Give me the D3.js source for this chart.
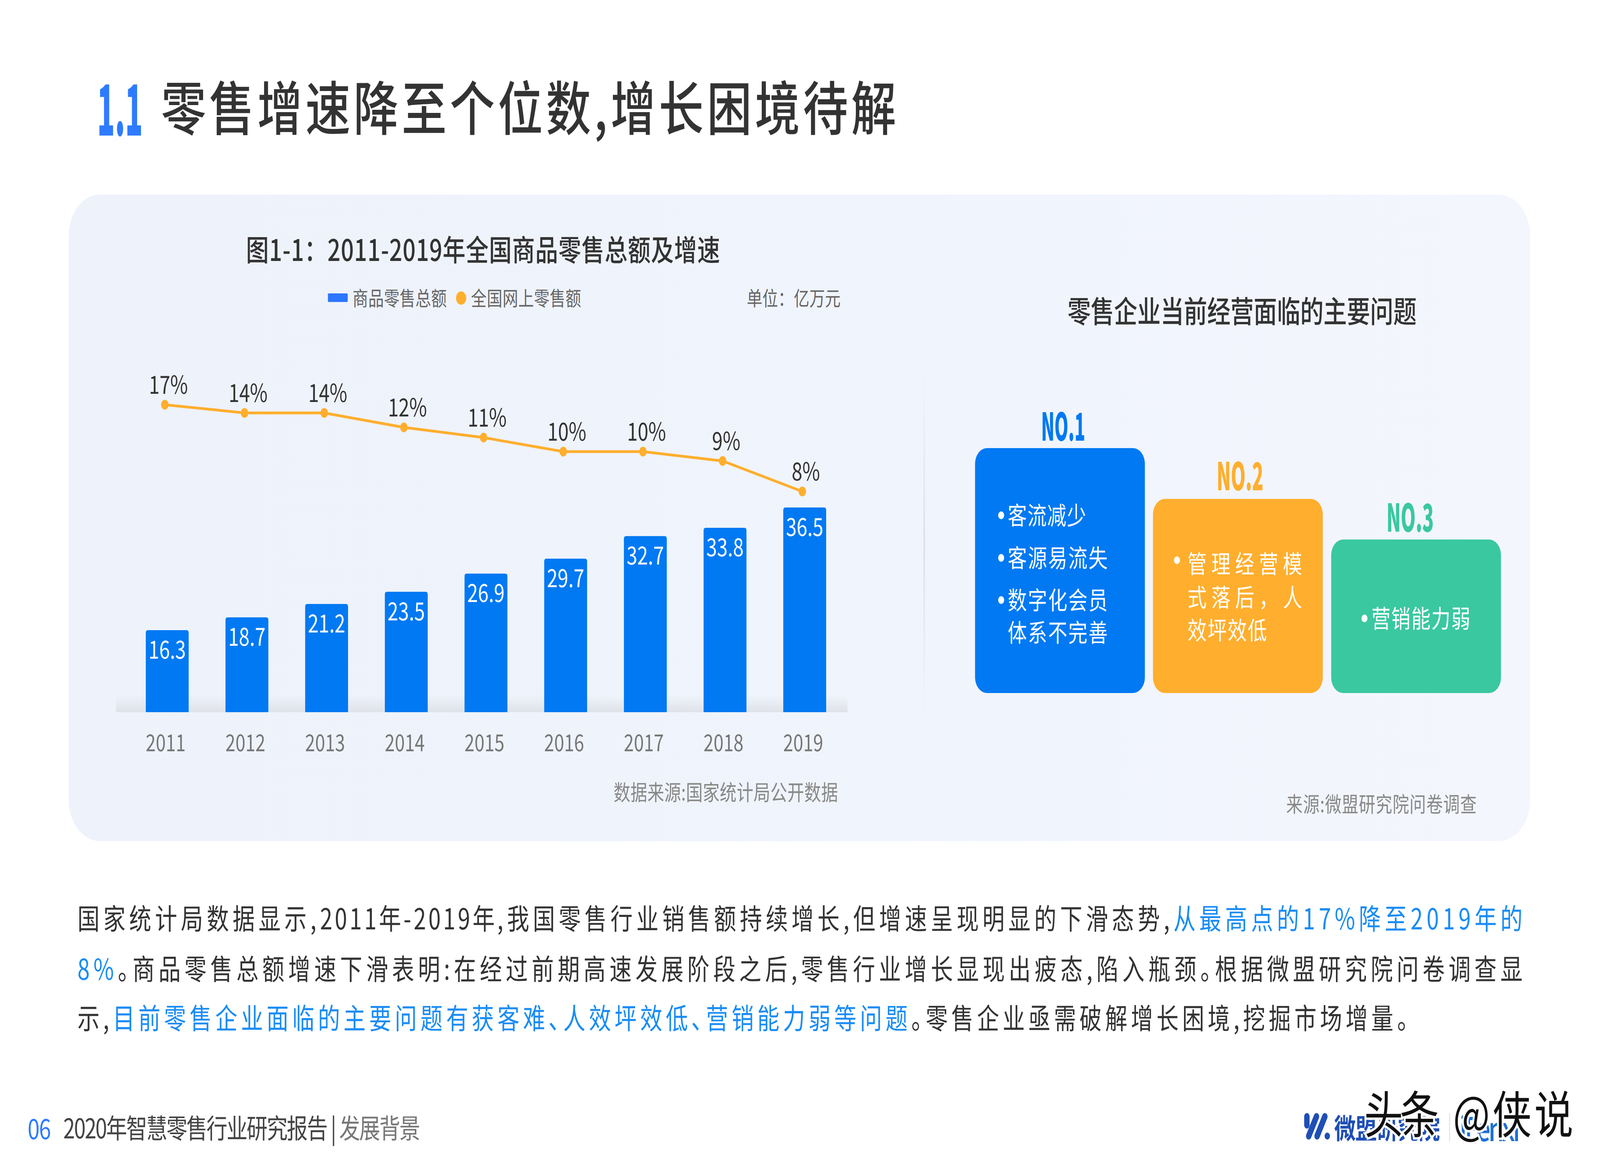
<!DOCTYPE html>
<html><head><meta charset="utf-8">
<script src="https://cdn.jsdelivr.net/npm/d3@7/dist/d3.min.js"></script>
<style>
html,body{margin:0;padding:0;background:#fff;width:100%;height:100%;overflow:hidden}
svg{display:block;width:100vw;height:100vh}
text{font-family:"Noto Sans CJK SC","Noto Sans",sans-serif;text-rendering:geometricPrecision}
.palt{font-feature-settings:"palt"}
</style></head><body>
<svg id="c" viewBox="0 0 5333 3000" preserveAspectRatio="none"></svg>
<script>
// ---------- data ----------
const years = ["2011","2012","2013","2014","2015","2016","2017","2018","2019"];
const totals = [16.3,18.7,21.2,23.5,26.9,29.7,32.7,33.8,36.5];
const rates = [17,14,14,12,11,10,10,9,8];
const legendNames = ["商品零售总额","全国网上零售额"];
const problemRanks = ["NO.1","NO.2","NO.3"];
const problemLines = [
  [["客流减少",true],["客源易流失",true],["数字化会员",true],["体系不完善",false]],
  [["管理经营模",true],["式落后，人",false],["效坪效低",false]],
  [["营销能力弱",true]]
];
const paragraph = [
  [["国家统计局数据显示,",0],["2011年-2019年",0,1],[",我国零售行业销售额持续增长,但增速呈现明显的下滑态势,",0],["从最高点的17%降至2019年的",1]],
  [["8%",1],["。商品零售总额增速下滑表明:在经过前期高速发展阶段之后,零售行业增长显现出疲态,陷入瓶颈。根据微盟研究院问卷调查显",0]],
  [["示,",0],["目前零售企业面临的主要问题有获客难、人效坪效低、营销能力弱等问题",1],["。零售企业亟需破解增长困境,挖掘市场增量。",0]]
];

// ---------- helpers ----------
const svg = d3.select("#c");
const defs = svg.append("defs");
function grad(id,x2,y2,stops){
  const g=defs.append("linearGradient").attr("id",id).attr("x1",0).attr("y1",0).attr("x2",x2).attr("y2",y2);
  stops.forEach(s=>g.append("stop").attr("offset",s[0]).attr("stop-color",s[1]).attr("stop-opacity",s[2]===undefined?1:s[2]));
}
grad("panel",1,0,[[0,"#edf2fb"],[0.55,"#f0f4fc"],[1,"#f4f6fe"]]);
grad("floor",0,1,[[0,"#dfe2e8",0],[1,"#dfe2e8",1]]);
grad("divider",0,1,[[0,"#dde2ec",0],[0.5,"#d9dfea",1],[1,"#dde2ec",0]]);

function label(x,y,str,size,fill,opts={}){
  const t=svg.append("text").attr("x",x).attr("y",y).attr("font-size",size).attr("fill",fill)
    .attr("dominant-baseline","central").attr("text-anchor",opts.anchor||"start")
    .attr("font-weight",opts.weight||400).text(str);
  if(opts.width) fit(t,opts.width);
  return t;
}
function fit(t,width,fixedChars=0){
  const n=t.text().length-fixedChars;
  const len=t.node().getComputedTextLength();
  t.style("letter-spacing",((width-len)/Math.max(1,n-1))+"px");
  return t;
}
// squeeze a label horizontally to a given width with a transform
function squeezed(x,y,str,size,fill,weight,width){
  const t=svg.append("text").attr("font-size",size).attr("fill",fill).attr("font-weight",weight)
    .attr("dominant-baseline","central").text(str);
  const k=width/t.node().getComputedTextLength();
  t.attr("transform",`translate(${x},${y}) scale(${k},1)`);
  return t;
}

// ---------- header ----------
squeezed(324,268,"1.1",180,"#2f7bff",900,152);
label(537,268,"零售增速降至个位数,增长困境待解",150,"#333333",{weight:500,width:2450}).classed("palt",true);

// ---------- panel ----------
svg.append("rect").attr("x",229).attr("y",498).attr("width",4871).attr("height",1655).attr("rx",105).attr("fill","url(#panel)");
svg.append("rect").attr("x",3078).attr("y",939).attr("width",5).attr("height",907).attr("fill","url(#divider)");

// ---------- left chart ----------
label(820,635,"图1-1：2011-2019年全国商品零售总额及增速",76,"#333333",{weight:500,width:1580});

svg.append("rect").attr("x",1093).attr("y",751).attr("width",66).attr("height",22).attr("rx",3).attr("fill","#2e75ff");
label(1175,760,legendNames[0],52,"#666666",{width:314});
svg.append("circle").attr("cx",1537).attr("cy",763).attr("r",17).attr("fill","#ffae2e");
label(1570,760,legendNames[1],52,"#666666",{width:367});
label(2489,760,"单位：亿万元",52,"#666666",{width:313});

const floorY = 1823;
const x = d3.scaleBand().domain(years).range([424.6,2815]).paddingInner(.462).paddingOuter(.231);
const yBar = d3.scaleLinear().domain([16.3,29.7,36.5]).range([1613,1430,1299]);
const yRate = d3.scaleLinear().domain([8,9,10,11,12,14,17]).range([1258,1180,1156,1120,1094,1057,1036]);

svg.append("rect").attr("x",387).attr("y",floorY-44).attr("width",2438).attr("height",44).attr("fill","url(#floor)");

const rows = years.map((year,i)=>({year,total:totals[i],rate:rates[i]}));
const barR = 7;
svg.append("g").selectAll("path").data(rows).join("path").attr("fill","#0079f3")
  .attr("d",d=>{
    const x0=x(d.year),x1=x0+x.bandwidth(),t=yBar(d.total);
    return `M${x0},${floorY}V${t+barR}Q${x0},${t} ${x0+barR},${t}H${x1-barR}Q${x1},${t} ${x1},${t+barR}V${floorY}Z`;
  });
svg.append("g").selectAll("text").data(rows).join("text")
  .attr("x",d=>x(d.year)+x.bandwidth()/2).attr("y",d=>yBar(d.total)+46)
  .attr("text-anchor","middle").attr("dominant-baseline","central")
  .attr("font-size",64).attr("fill","#ffffff").text(d=>d.total.toFixed(1));

const cx = d=>x(d.year)+x.bandwidth()/2-8;
svg.append("path").datum(rows)
  .attr("d",d3.line().x(cx).y(d=>yRate(d.rate)))
  .attr("fill","none").attr("stroke","#ffae2e").attr("stroke-width",7);
svg.append("g").selectAll("circle").data(rows).join("circle")
  .attr("cx",cx).attr("cy",d=>yRate(d.rate)).attr("r",12.5).attr("fill","#ffae2e");
svg.append("g").selectAll("text").data(rows).join("text")
  .attr("x",d=>cx(d)+12).attr("y",d=>yRate(d.rate)-55)
  .attr("text-anchor","middle").attr("dominant-baseline","central")
  .attr("font-size",64).attr("fill","#333333").text(d=>d.rate+"%");

const axis = svg.append("g").attr("transform",`translate(-5,${floorY+30})`)
  .call(d3.axisBottom(x).tickSize(0).tickPadding(0));
axis.select(".domain").remove();
axis.selectAll("text").attr("font-size",60).attr("fill","#777777").attr("dominant-baseline","central").attr("y",44).attr("dy",0);

label(2045,2025,"数据来源:国家统计局公开数据",56,"#888888",{width:748});

// ---------- right panel ----------
label(3558,793,"零售企业当前经营面临的主要问题",78,"#333333",{weight:500,width:1164});

const boxColors = ["#0079f3","#ffae2e","#3ac8a0"];
const boxLeft = [3250,3843,4437];
const boxTop = [1147,1277,1381];
const boxW = 566, boxBottom = 1774;
const rankX = [3470,4055,4621], rankW=[147,156,158], rankY=[1086,1213,1319];
const lineY = [[1316,1425,1533,1616],[1440,1526,1610],[1580]];
const lineX = [3359,3958,4571], bulletX=[3337,3923,4548];
const lineW = [[261,333,333,333],[382,382,265],[330]];

problemRanks.forEach((rank,i)=>{
  svg.append("rect").attr("x",boxLeft[i]).attr("y",boxTop[i]).attr("width",boxW).attr("height",boxBottom-boxTop[i]).attr("rx",40).attr("fill",boxColors[i]);
  squeezed(rankX[i],rankY[i],rank,98,boxColors[i],900,rankW[i]);
  problemLines[i].forEach((ln,j)=>{
    label(lineX[i],lineY[i][j],ln[0],64,"#ffffff",{width:lineW[i][j]});
    if(ln[1]) svg.append("circle").attr("cx",bulletX[i]).attr("cy",lineY[i][j]+(i===1?-6:3)).attr("r",10).attr("fill","#ffffff");
  });
});
label(4287,2055,"来源:微盟研究院问卷调查",55,"#888888",{width:635});

// ---------- paragraph ----------
const paraY=[2347,2476,2602], paraW=[4817,4817,4435];
paragraph.forEach((ln,i)=>{
  const t=svg.append("text").attr("class","palt").attr("x",258).attr("y",paraY[i]).attr("font-size",74).attr("dominant-baseline","central");
  let fixed=0;
  ln.forEach(s=>{
    const sp=t.append("tspan").attr("fill",s[1]?"#1a8cf5":"#333333").text(s[0]);
    if(s[2]){ sp.style("letter-spacing","8px"); fixed+=s[0].length; }
  });
  fit(t,paraW[i],fixed);
});

// ---------- footer ----------
label(92,2884,"06",72,"#2f7bff",{width:78});
const foot = svg.append("text").attr("x",211).attr("y",2884).attr("font-size",70).attr("dominant-baseline","central");
foot.append("tspan").attr("fill","#444444").text("2020年智慧零售行业研究报告 | ");
foot.append("tspan").attr("fill","#777777").text("发展背景");
fit(foot,1190);

// logo
const logo = svg.append("g").attr("stroke","#1f4fb5").attr("stroke-linecap","round").attr("fill","none");
logo.append("line").attr("x1",4356).attr("y1",2858).attr("x2",4356).attr("y2",2880).attr("stroke-width",18);
logo.append("line").attr("x1",4388).attr("y1",2858).attr("x2",4362).attr("y2",2908).attr("stroke-width",18);
logo.append("line").attr("x1",4416).attr("y1",2858).attr("x2",4390).attr("y2",2908).attr("stroke-width",18);
svg.append("circle").attr("cx",4424).attr("cy",2908).attr("r",9).attr("fill","#1f4fb5");
label(4447,2883,"微盟研究院",72,"#1f4fb5",{weight:700,width:353});
svg.append("rect").attr("x",4831).attr("y",2850).attr("width",2).attr("height",72).attr("fill","#cfd3dc");
label(4865,2885,"iFenxi",84,"#1f6fd8",{weight:500,width:202});

// watermark
const wm = (x,str,size,w)=>{
  const t=svg.append("text").attr("x",x).attr("y",2845).attr("font-size",size).attr("dominant-baseline","central")
    .attr("fill","#111111").attr("stroke","#ffffff").attr("stroke-width",12).attr("paint-order","stroke").text(str);
  fit(t,w);
};
wm(4547,"头条",130,249);
wm(4843,"@侠说",130,401);
</script>
</body></html>
